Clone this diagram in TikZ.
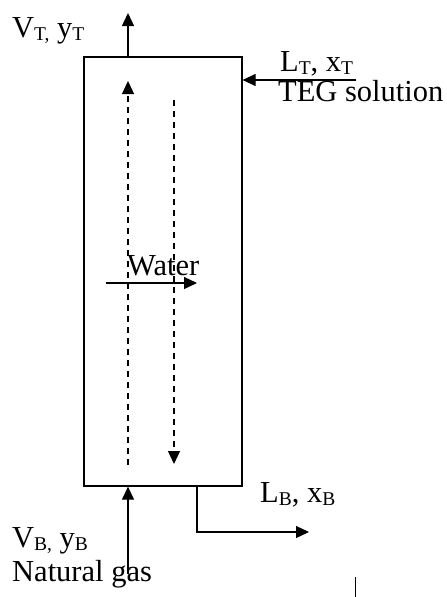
\documentclass[tikz,border=0pt]{standalone}
\usepackage{fontspec}
\setmainfont{Liberation Serif}
\usetikzlibrary{arrows.meta}
\newcommand{\sbs}[1]{\raisebox{-0.12em}{\fontsize{19.5}{19.5}\selectfont #1}}
\tikzset{
  flow/.style={line width=1.25pt,-{Triangle[length=13pt,width=12pt]}},
  dflow/.style={flow,dash pattern=on 6pt off 5pt},
  lbl/.style={anchor=base west,inner sep=0pt,font=\fontsize{30.5}{35}\selectfont},
  column/.style={draw,line width=1.25pt,minimum width=158pt,minimum height=429pt,inner sep=0pt}
}
\begin{document}
\begin{tikzpicture}[x=1pt,y=-1pt]
\useasboundingbox (0,0) rectangle (447,597);
\node[column] (col) at (163,271.5) {};
% top vapour out
\coordinate (topout) at (128,13);
\draw[flow] (col.north -| topout) -- (topout);
% TEG in
\coordinate (tegin) at (356,80);
\draw[flow] (tegin) -- (tegin -| col.east);
% internal dashed arrows
\coordinate (dupS) at (128,465);
\coordinate (dupE) at (128,81);
\draw[dflow] (dupS) -- (dupE);
\coordinate (ddnS) at (174,100);
\coordinate (ddnE) at (174,464);
\draw[dflow] (ddnS) -- (ddnE);
% water transfer
\coordinate (wS) at (106,283);
\coordinate (wE) at (197,283);
\draw[flow] (wS) -- (wE);
% gas in
\coordinate (gasin) at (128,574);
\draw[flow] (gasin) -- (gasin |- col.south);
% liquid out
\coordinate (lq) at (197,532);
\coordinate (lqE) at (309,532);
\draw[flow] (lq |- col.south) -- (lq) -- (lqE);
% stray tick
\coordinate (tk1) at (355,577);
\coordinate (tk2) at (355,597);
\draw[line width=1pt] (tk1) -- (tk2);
% labels
\node[lbl] (vt) at (12,37) {V\sbs{T,} y\sbs{T}};
\node[lbl] (lt) at (280,71) {L\sbs{T}, x\sbs{T}};
\node[lbl] (teg) at (278,101) {TEG solution};
\node[lbl] (water) at (127,275) {Water};
\node[lbl] (lb) at (260,502) {L\sbs{B}, x\sbs{B}};
\node[lbl] (vb) at (12,547) {V\sbs{B,} y\sbs{B}};
\node[lbl] (ng) at (12,581) {Natural gas};
\end{tikzpicture}
\end{document}
